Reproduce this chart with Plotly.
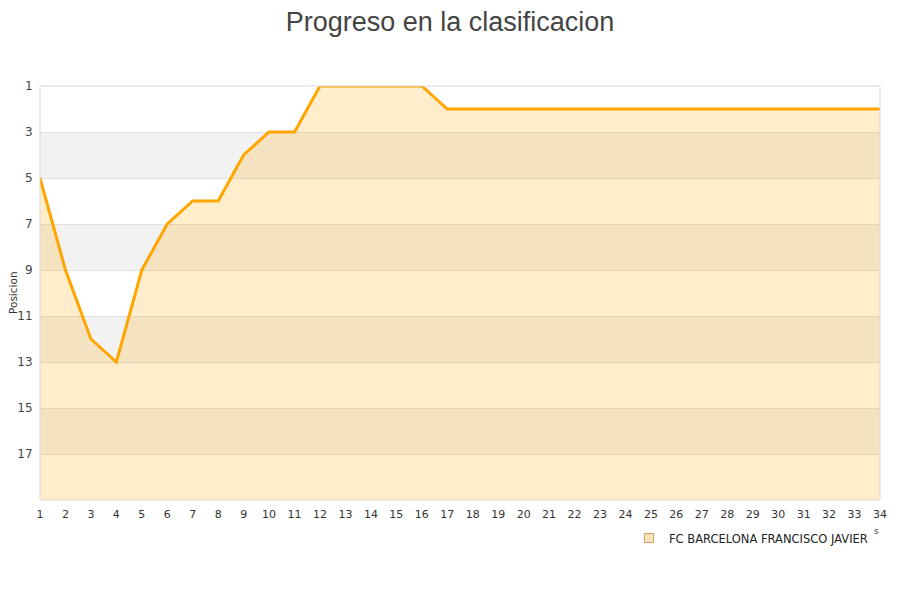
import plotly.graph_objects as go

jornadas = list(range(1, 35))
posiciones = [5, 9, 12, 13, 9, 7, 6, 6, 4, 3, 3, 1, 1, 1, 1, 1, 2,
              2, 2, 2, 2, 2, 2, 2, 2, 2, 2, 2, 2, 2, 2, 2, 2, 2]
equipo = "FC BARCELONA FRANCISCO JAVIER"
y_ticks = [1, 3, 5, 7, 9, 11, 13, 15, 17]
bandas = [(3, 5), (7, 9), (11, 13), (15, 17)]
fondo_max = 19

fig = go.Figure()

# baseline for fill
fig.add_trace(go.Scatter(x=jornadas, y=[fondo_max] * len(jornadas), mode="lines",
                         line=dict(width=0), showlegend=False, hoverinfo="skip"))
fig.add_trace(go.Scatter(x=jornadas, y=posiciones, mode="lines", fill="tonexty",
                         fillcolor="rgba(255,165,0,0.2)",
                         line=dict(color="#ffa500", width=3), showlegend=False,
                         name=equipo))
# legend entry
fig.add_trace(go.Scatter(x=[None], y=[None], mode="markers", name=equipo,
                         marker=dict(symbol="square", size=9, color="#fbe3bd",
                                     line=dict(color="#c9a36a", width=1))))

shapes = []
for a, b in bandas:
    shapes.append(dict(type="rect", xref="paper", yref="y", x0=0, x1=1, y0=a, y1=b,
                       fillcolor="#f2f2f2", line=dict(width=0), layer="below"))
shapes.append(dict(type="rect", xref="paper", yref="paper", x0=0, x1=1, y0=0, y1=1,
                   line=dict(color="#d8d8d8", width=1), fillcolor="rgba(0,0,0,0)", layer="above"))

fig.update_layout(
    width=900, height=600,
    margin=dict(l=32, r=28, t=78, b=108, autoexpand=False),
    paper_bgcolor="white", plot_bgcolor="white",
    title=dict(text="Progreso en la clasificacion", x=(450 - 8) / 900, xanchor="center",
               y=1 - 14 / 600, yanchor="middle", automargin=False,
               font=dict(family="Liberation Sans, Arial", size=27, color="#444444")),
    shapes=shapes,
    showlegend=True,
    legend=dict(orientation="h", x=(873 - 40) / 840, xanchor="right", y=(500 - 538) / 414,
                yanchor="middle",
                font=dict(family="DejaVu Sans", size=11.5, color="#222222"),
                bgcolor="rgba(0,0,0,0)", itemwidth=30),
    font=dict(family="DejaVu Sans", size=11, color="#444444"),
)
fig.update_xaxes(range=[1, 34], tickmode="array", tickvals=jornadas, automargin=False,
                 showgrid=False, zeroline=False, showline=False,
                 tickfont=dict(size=11, color="#333333"),
                 ticks="outside", ticklen=4, tickcolor="rgba(0,0,0,0)")
fig.update_yaxes(range=[fondo_max, 1], tickmode="array", tickvals=y_ticks, automargin=False,
                 showgrid=True, gridcolor="#e0e0e0", gridwidth=1, zeroline=False,
                 showline=False, tickfont=dict(size=12, color="#444444"),
                 ticks="outside", ticklen=4, tickcolor="rgba(0,0,0,0)")

# y-axis title as annotation
fig.add_annotation(x=-(40 - 13) / 840, y=0.5, xref="paper", yref="paper",
                   text="Posicion", textangle=-90, showarrow=False,
                   xanchor="center", yanchor="middle",
                   font=dict(size=10.5, color="#333333"))

fig.add_annotation(x=(876 - 40) / 840, y=(500 - 531) / 414, xref="paper", yref="paper",
                   text="s", showarrow=False, xanchor="center", yanchor="middle",
                   font=dict(size=9, color="#444444"))

fig.write_html("out.html")
